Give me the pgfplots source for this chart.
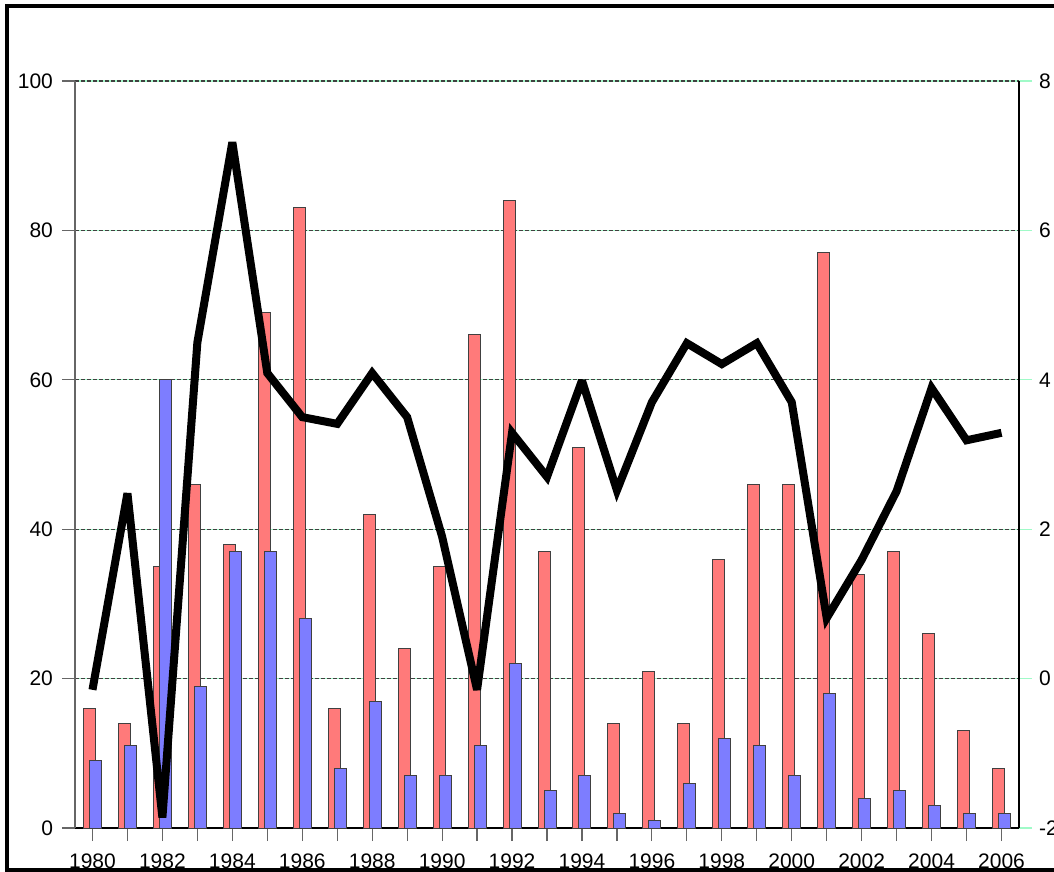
\documentclass[border=0pt]{standalone}
\usepackage{fontspec}
\setmainfont{Liberation Sans}
\usepackage{pgfplots}
\pgfplotsset{compat=1.18}
\definecolor{barred}{RGB}{255,122,122}
\definecolor{barblue}{RGB}{125,125,255}
\definecolor{gridgreen}{RGB}{160,250,200}
\begin{document}
\begin{tikzpicture}[font=\fontsize{10.5pt}{12pt}\selectfont]
\useasboundingbox (-37.5pt,-22pt) rectangle (489.5pt,414pt);
\clip (-37.5pt,-22pt) rectangle (489.5pt,414pt);
\begin{axis}[
  at={(0pt,0pt)}, anchor=south west,
  scale only axis, width=472pt, height=373.5pt,
  xmin=-0.5, xmax=26.5, ymin=0, ymax=100,
  axis y line*=left, axis x line*=bottom,
  x axis line style={black, line width=0.6pt},
  y axis line style={black!60, line width=0.6pt},
  xtick={0,...,26},
  xticklabels={1980,,1982,,1984,,1986,,1988,,1990,,1992,,1994,,1996,,1998,,2000,,2002,,2004,,2006},
  ytick={0,20,...,100},
  tick align=outside, major tick length=6.5pt,
  tick style={black!60, line width=0.6pt},
  xticklabel style={yshift=-3pt},
  yticklabel style={xshift=-1pt},
  /pgf/number format/assume math mode=true,
  ymajorgrids,
  major grid style={draw=gridgreen, line width=0.6pt, postaction={draw=black!75, line width=0.6pt, dash pattern=on 2pt off 1pt}},
]
\addplot[ybar, bar width=6pt, bar shift=-1.5pt, fill=barred, draw=black!75, line width=0.5pt]
 coordinates {(0,16)(1,14)(2,35)(3,46)(4,38)(5,69)(6,83)(7,16)(8,42)(9,24)(10,35)(11,66)(12,84)(13,37)(14,51)(15,14)(16,21)(17,14)(18,36)(19,46)(20,46)(21,77)(22,34)(23,37)(24,26)(25,13)(26,8)};
\addplot[ybar, bar width=6pt, bar shift=1.5pt, fill=barblue, draw=black!75, line width=0.5pt]
 coordinates {(0,9)(1,11)(2,60)(3,19)(4,37)(5,37)(6,28)(7,8)(8,17)(9,7)(10,7)(11,11)(12,22)(13,5)(14,7)(15,2)(16,1)(17,6)(18,12)(19,11)(20,7)(21,18)(22,4)(23,5)(24,3)(25,2)(26,2)};
\end{axis}
\begin{axis}[
  at={(0pt,0pt)}, anchor=south west,
  scale only axis, width=472pt, height=373.5pt,
  xmin=-0.5, xmax=26.5, ymin=-2, ymax=8,
  axis x line=none, axis y line*=right,
  y axis line style={black, line width=0.6pt},
  ytick={-2,0,...,8},
  tick align=outside, major tick length=6.5pt,
  tick style={gridgreen, line width=0.6pt},
  /pgf/number format/assume math mode=true,
]
\addplot[black, line width=4pt, line join=miter, miter limit=3]
 coordinates {(0,-0.15)(1,2.48)(2,-1.86)(3,4.50)(4,7.18)(5,4.09)(6,3.50)(7,3.41)(8,4.09)(9,3.50)(10,1.90)(11,-0.15)(12,3.29)(13,2.70)(14,3.99)(15,2.52)(16,3.70)(17,4.49)(18,4.21)(19,4.49)(20,3.70)(21,0.81)(22,1.59)(23,2.51)(24,3.89)(25,3.19)(26,3.29)};
\end{axis}
\draw[line width=2pt] (500pt,410.75pt) -- (-33.75pt,410.75pt) -- (-33.75pt,-21pt) -- (500pt,-21pt);
\end{tikzpicture}
\end{document}
